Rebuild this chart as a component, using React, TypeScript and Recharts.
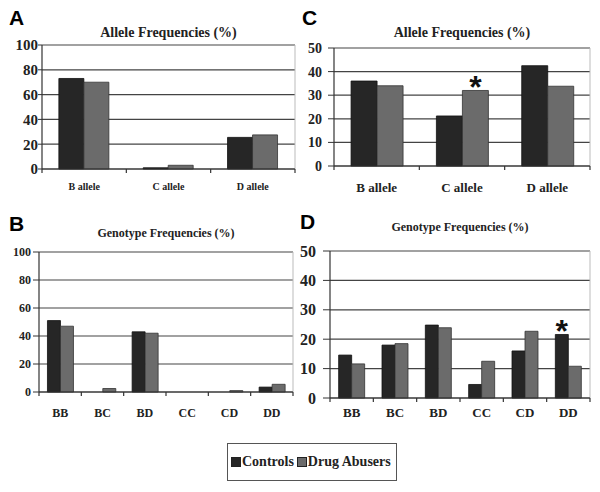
import React from 'react'
import { BarChart, Bar, XAxis, YAxis, CartesianGrid, LabelList } from 'recharts'

const ALLELES = ['B allele', 'C allele', 'D allele']
const GENOTYPES = ['BB', 'BC', 'BD', 'CC', 'CD', 'DD']

// panel A - allele frequencies
const A_CONTROLS = [73, 1, 25.5]
const A_DRUG = [70, 3, 27.5]
// panel B - genotype frequencies
const B_CONTROLS = [51, 0, 43, 0, 0, 3.5]
const B_DRUG = [47, 2.5, 42, 0, 1, 5.5]
// panel C - allele frequencies
const C_CONTROLS = [36, 21.2, 42.5]
const C_DRUG = [34, 32, 33.8]
// panel D - genotype frequencies
const D_CONTROLS = [14.6, 18, 24.8, 4.6, 16, 21.6]
const D_DRUG = [11.6, 18.5, 23.9, 12.5, 22.7, 10.8]

// significance marks (* above bar)
const C_SIG_DRUG = [false, true, false]
const D_SIG_CONTROLS = [false, false, false, false, false, true]

const TICKS_100 = [0, 20, 40, 60, 80, 100]
const TICKS_50 = [0, 10, 20, 30, 40, 50]

const SERIES = [
  { key: 'controls', name: 'Controls', color: '#262626' },
  { key: 'drug', name: 'Drug Abusers', color: '#6b6b6b' },
]

const SERIF = "'Liberation Serif', 'DejaVu Serif', serif"
const SANS = "'Liberation Sans', Arial, sans-serif"

function build(cats: string[], ctrl: number[], drug: number[], sigC?: boolean[], sigD?: boolean[]) {
  return cats.map((c, i) => ({
    cat: c,
    controls: ctrl[i],
    drug: drug[i],
    sigC: sigC ? sigC[i] : false,
    sigD: sigD ? sigD[i] : false,
  }))
}

function CatTick(props: any) {
  const { x, y, payload, index, bw, n, fontSize, dy } = props
  return (
    <g>
      <line x1={x - bw / 2} y1={y} x2={x - bw / 2} y2={y + 4} stroke="#333" strokeWidth={1.2} />
      {index === n - 1 && <line x1={x + bw / 2} y1={y} x2={x + bw / 2} y2={y + 4} stroke="#333" strokeWidth={1.2} />}
      <text x={x} y={y + dy} textAnchor="middle" style={{ fontFamily: SERIF, fontWeight: 'bold', fontSize }} fill="#222">
        {payload.value}
      </text>
    </g>
  )
}

function Star(props: any) {
  const { x, y, width, value } = props
  if (!value) return null
  return (
    <text x={x + width / 2} y={y + 8} textAnchor="middle" style={{ fontFamily: SANS, fontWeight: 'bold', fontSize: 32 }} fill="#111">
      *
    </text>
  )
}

interface PanelProps {
  data: any[]
  plot: { l: number; t: number; r: number; b: number }
  max: number
  ticks: number[]
  yFont: number
  yTick: [number, number]
  xFont: number
  xDy: number
  letter: string
  letterPos: [number, number]
  title: string
  titleY: number
  titleFont: number
}

function Panel(p: PanelProps) {
  const yw = 40
  const left = p.plot.l - yw
  const top = p.plot.t - 10
  const width = p.plot.r - left + 4
  const height = p.plot.b - top + 30
  const bw = (p.plot.r - p.plot.l) / p.data.length
  return (
    <>
      <div style={{ position: 'absolute', left: p.letterPos[0], top: p.letterPos[1], fontFamily: SANS, fontWeight: 'bold', fontSize: 21, lineHeight: '21px' }}>
        {p.letter}
      </div>
      <div style={{ position: 'absolute', left: p.plot.l, width: p.plot.r - p.plot.l, top: p.titleY - 10, height: 20, lineHeight: '20px', textAlign: 'center', fontFamily: SERIF, fontWeight: 'bold', fontSize: p.titleFont, color: '#222' }}>
        {p.title}
      </div>
      <div style={{ position: 'absolute', left, top }}>
        <BarChart width={width} height={height} data={p.data} margin={{ top: 10, right: 4, left: 0, bottom: 0 }} barGap={0} barCategoryGap="20%">
          <CartesianGrid vertical={false} stroke="#444" strokeWidth={1.2} />
          <CartesianGrid horizontal={false} stroke="#bbb" verticalCoordinatesGenerator={({ offset }: any) => [offset.left + offset.width]} />
          <XAxis dataKey="cat" height={30} axisLine={{ stroke: '#333', strokeWidth: 1.2 }} tickLine={false} tickSize={0} tickMargin={0} interval={0}
            tick={<CatTick bw={bw} n={p.data.length} fontSize={p.xFont} dy={p.xDy} />} />
          <YAxis width={yw} domain={[0, p.max]} ticks={p.ticks} interval={0} axisLine={{ stroke: '#333', strokeWidth: 1.2 }} tickLine={{ stroke: '#333' }}
            tickSize={p.yTick[0]} tickMargin={p.yTick[1]}
            tick={{ style: { fontFamily: SERIF, fontWeight: 'bold', fontSize: p.yFont }, fill: '#222' }} />
          <Bar dataKey="controls" name="Controls" fill={SERIES[0].color} stroke="#111" strokeWidth={0.8} isAnimationActive={false}>
            <LabelList dataKey="sigC" content={<Star />} />
          </Bar>
          <Bar dataKey="drug" name="Drug Abusers" fill={SERIES[1].color} stroke="#333" strokeWidth={0.8} isAnimationActive={false}>
            <LabelList dataKey="sigD" content={<Star />} />
          </Bar>
        </BarChart>
      </div>
    </>
  )
}

export default function App() {
  const dataA = build(ALLELES, A_CONTROLS, A_DRUG)
  const dataB = build(GENOTYPES, B_CONTROLS, B_DRUG)
  const dataC = build(ALLELES, C_CONTROLS, C_DRUG, undefined, C_SIG_DRUG)
  const dataD = build(GENOTYPES, D_CONTROLS, D_DRUG, D_SIG_CONTROLS)
  return (
    <div style={{ position: 'absolute', left: 0, top: 0, width: 600, height: 492, background: '#fff', overflow: 'hidden' }}>
      <Panel data={dataA} plot={{ l: 42, t: 45, r: 295, b: 169 }} max={100} ticks={TICKS_100} yFont={15} yTick={[4, 0]} xFont={10} xDy={21}
        letter="A" letterPos={[9, 7]} title="Allele Frequencies (%)" titleY={33} titleFont={14} />
      <Panel data={dataC} plot={{ l: 334, t: 48, r: 590, b: 166 }} max={50} ticks={TICKS_50} yFont={14} yTick={[6, 6]} xFont={13} xDy={26}
        letter="C" letterPos={[302, 7]} title="Allele Frequencies (%)" titleY={33} titleFont={14} />
      <Panel data={dataB} plot={{ l: 39, t: 252, r: 293, b: 392 }} max={100} ticks={TICKS_100} yFont={12} yTick={[6, 2]} xFont={12} xDy={25}
        letter="B" letterPos={[9, 213]} title="Genotype Frequencies (%)" titleY={233} titleFont={12} />
      <Panel data={dataD} plot={{ l: 330, t: 251, r: 590, b: 398 }} max={50} ticks={TICKS_50} yFont={16} yTick={[7, 7]} xFont={13} xDy={19}
        letter="D" letterPos={[300, 211]} title="Genotype Frequencies (%)" titleY={227} titleFont={12} />
      <div style={{ position: 'absolute', left: 227, top: 443, width: 170, height: 38, border: '1px solid #555', boxSizing: 'border-box', display: 'flex', alignItems: 'center', paddingLeft: 3, whiteSpace: 'nowrap', fontFamily: SERIF, fontWeight: 'bold', fontSize: 14, color: '#222' }}>
        {SERIES.map(s => (
          <span key={s.key} style={{ display: 'inline-flex', alignItems: 'center', marginRight: 3 }}>
            <span style={{ display: 'inline-block', width: 8, height: 8, background: s.color, border: '1px solid #222', marginRight: 1 }} />
            {s.name}
          </span>
        ))}
      </div>
    </div>
  )
}
